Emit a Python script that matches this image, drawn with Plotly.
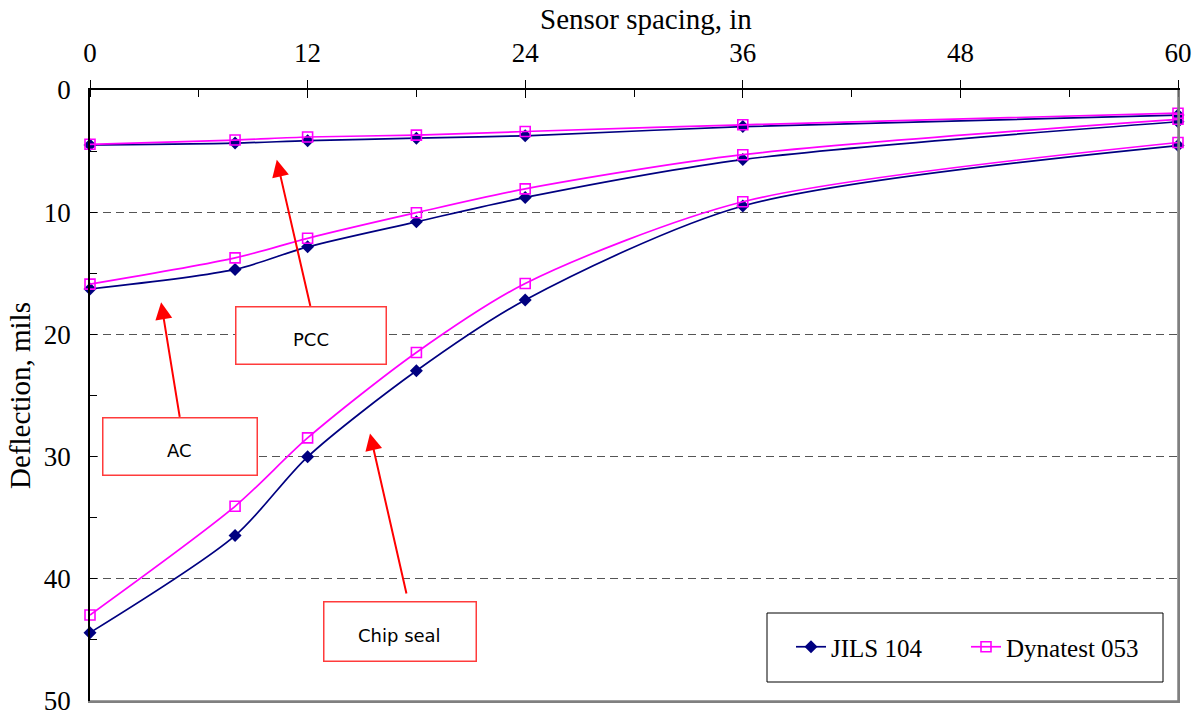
import plotly.graph_objects as go

# ---- data ----
X_IN = [0, 8, 12, 18, 24, 36, 60]

PCC_JILS = [4.5, 4.35, 4.15, 3.95, 3.75, 3.0, 2.05]
PCC_DYN = [4.45, 4.1, 3.85, 3.7, 3.4, 2.85, 1.9]
AC_JILS = [16.3, 14.7, 12.85, 10.8, 8.8, 5.7, 2.6]
AC_DYN = [15.9, 13.75, 12.15, 10.05, 8.1, 5.3, 2.4]
CHIP_JILS = [44.45, 36.5, 30.05, 23.0, 17.2, 9.5, 4.55]
CHIP_DYN = [43.0, 34.1, 28.5, 21.5, 15.85, 9.15, 4.3]

SERIES_NAMES = ["JILS 104", "Dynatest 053"]
PAVEMENT_LABELS = ["PCC", "AC", "Chip seal"]
X_TICKS = [0, 12, 24, 36, 48, 60]
Y_TICKS = [0, 10, 20, 30, 40, 50]

# label box centers / arrow tips & tails (data units)
BOX_X = [12.2, 4.94, 17.07]
BOX_Y = [20.15, 29.23, 44.36]
BOX_W = [145, 149, 147]
BOX_H = [52, 52, 54]
ARROW_TIP_X = [10.3, 3.92, 15.44]
ARROW_TIP_Y = [5.72, 17.39, 28.13]
ARROW_TAIL_X = [12.17, 4.96, 17.47]
ARROW_TAIL_Y = [17.82, 26.9, 41.37]

NAVY = "#000080"
MAGENTA = "#FF00FF"
GREY = "#808080"
SERIF = "Liberation Serif, Times New Roman, serif"

fig = go.Figure()

jils = [PCC_JILS, AC_JILS, CHIP_JILS]
dyn = [PCC_DYN, AC_DYN, CHIP_DYN]

for i, yv in enumerate(jils):
    fig.add_trace(go.Scatter(
        x=X_IN, y=yv, mode="lines+markers", name=SERIES_NAMES[0],
        legendgroup="jils", showlegend=(i == 0), legendrank=1, cliponaxis=False,
        line=dict(color=NAVY, width=1.7, shape="spline", smoothing=0.8),
        marker=dict(symbol="diamond", size=10, color=NAVY),
        hoverinfo="skip"))
for i, yv in enumerate(dyn):
    fig.add_trace(go.Scatter(
        x=X_IN, y=yv, mode="lines+markers", name=SERIES_NAMES[1],
        legendgroup="dyn", showlegend=(i == 0), legendrank=2, cliponaxis=False,
        line=dict(color=MAGENTA, width=1.7, shape="spline", smoothing=0.8),
        marker=dict(symbol="square-open", size=10, color=MAGENTA,
                    line=dict(width=1.6, color=MAGENTA)),
        hoverinfo="skip"))

# helper invisible traces so the overlay axes (inner half of major ticks,
# grey right/bottom frame) are drawn
fig.add_trace(go.Scatter(x=X_IN[:1], y=PCC_JILS[:1], xaxis="x2", mode="markers",
                         opacity=0, showlegend=False, hoverinfo="skip"))
fig.add_trace(go.Scatter(x=X_IN[:1], y=PCC_JILS[:1], xaxis="x3", yaxis="y2",
                         mode="markers", opacity=0, showlegend=False, hoverinfo="skip"))

annotations = []
for i, lab in enumerate(PAVEMENT_LABELS):
    annotations.append(dict(
        x=ARROW_TIP_X[i], y=ARROW_TIP_Y[i], ax=ARROW_TAIL_X[i], ay=ARROW_TAIL_Y[i],
        xref="x", yref="y", axref="x", ayref="y", text="", showarrow=True,
        arrowhead=2, arrowsize=1.7, arrowwidth=2, arrowcolor="#FF0000"))
for i, lab in enumerate(PAVEMENT_LABELS):
    # framed box
    annotations.append(dict(
        x=BOX_X[i], y=BOX_Y[i], xref="x", yref="y", text=" ", showarrow=False,
        width=BOX_W[i], height=BOX_H[i], bordercolor="#FF3B3B", borderwidth=1.5,
        borderpad=2, bgcolor="white",
        font=dict(family="DejaVu Sans, Verdana, sans-serif", size=18, color="black")))
    # label text (sits a little below the box centre, as in the original)
    annotations.append(dict(
        x=BOX_X[i], y=BOX_Y[i], xref="x", yref="y", text=lab, showarrow=False,
        yshift=-4,
        font=dict(family="DejaVu Sans, Verdana, sans-serif", size=18, color="black")))

# x-axis title as a positioned annotation
annotations.append(dict(
    x=(645.5 - 90) / 1088, y=(701 - 19) / 611, xref="paper", yref="paper",
    text="Sensor spacing, in", showarrow=False, xanchor="center", yanchor="middle",
    font=dict(family=SERIF, size=29, color="black")))

shapes = [
    # grey right & bottom frame
    dict(type="line", xref="paper", yref="paper", x0=1, x1=1, y0=0, y1=1,
         line=dict(color=GREY, width=1.5), layer="above"),
    dict(type="line", xref="paper", yref="paper", x0=0, x1=1, y0=0, y1=0,
         line=dict(color=GREY, width=1.5), layer="above"),
    # legend frame
    dict(type="rect", xref="paper", yref="paper",
         x0=(767 - 90) / 1088, x1=(1163 - 90) / 1088,
         y0=(701 - 682) / 611, y1=(701 - 613) / 611,
         line=dict(color="black", width=1), fillcolor="white", layer="above"),
]

fig.update_layout(
    width=1198, height=715,
    margin=dict(l=90, r=20, t=90, b=14),
    paper_bgcolor="white", plot_bgcolor="white",
    font=dict(family=SERIF, color="black"),
    showlegend=True,
    legend=dict(orientation="h", x=(791 - 90) / 1088, xanchor="left",
                y=(701 - 647) / 611, yanchor="middle",
                bgcolor="rgba(0,0,0,0)", borderwidth=0,
                font=dict(family=SERIF, size=25, color="black"),
                entrywidth=130, itemwidth=30),
    xaxis=dict(side="top", range=[0, 60], tickvals=X_TICKS,
               ticks="outside", ticklen=8, tickwidth=1.3, tickcolor="black",
               minor=dict(dtick=6, ticks="inside", ticklen=7, tickwidth=1.3,
                          tickcolor="black", showgrid=False),
               showline=True, linecolor="black", linewidth=1.5,
               showgrid=False, zeroline=False, automargin=False,
               ticklabelstandoff=7,
               tickfont=dict(family=SERIF, size=27)),
    xaxis2=dict(overlaying="x", side="top", range=[0, 60], tickvals=X_TICKS,
                ticks="inside", ticklen=8, tickwidth=1.3, tickcolor="black",
                showticklabels=False, showline=False, showgrid=False, zeroline=False,
                automargin=False),
    xaxis3=dict(overlaying="x", side="bottom", anchor="y2", range=[0, 60],
                ticks="", showticklabels=False, showline=True, linecolor=GREY,
                linewidth=1.5, showgrid=False, zeroline=False, automargin=False),
    yaxis=dict(range=[50.05, 0], tickvals=Y_TICKS,
               ticks="inside", ticklen=7, tickwidth=1.3, tickcolor="black",
               minor=dict(dtick=5, ticks="inside", ticklen=7, tickwidth=1.3,
                          tickcolor="black", showgrid=False),
               showline=True, linecolor="black", linewidth=1.5,
               showgrid=True, gridcolor="#555555", gridwidth=1, griddash="8px,5px",
               zeroline=False, ticklabelstandoff=12, ticklabeloverflow="allow",
               automargin=False,
               tickfont=dict(family=SERIF, size=27),
               title=dict(text="Deflection, mils", font=dict(family=SERIF, size=29),
                          standoff=5)),
    yaxis2=dict(overlaying="y", side="right", anchor="x3", range=[50.05, 0],
                ticks="", showticklabels=False, showline=True, linecolor=GREY,
                linewidth=1.5, showgrid=False, zeroline=False, automargin=False),
    annotations=annotations,
    shapes=shapes,
)

fig.write_html("out.html")
